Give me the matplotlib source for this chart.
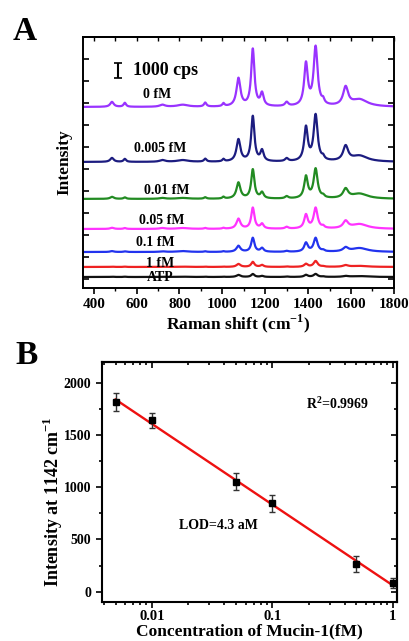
"""SERS 光谱 (A) + Mucin-1 标准曲线 (B)"""

import numpy as np
import matplotlib
matplotlib.use('Agg')
import matplotlib.pyplot as plt
from matplotlib.ticker import MultipleLocator, LogLocator, NullFormatter, FixedLocator

plt.rcParams['font.family'] = ['Liberation Serif', 'DejaVu Serif']
plt.rcParams['font.weight'] = 'bold'
plt.rcParams['mathtext.fontset'] = 'custom'
plt.rcParams['mathtext.rm'] = 'Liberation Serif:bold'
plt.rcParams['mathtext.bf'] = 'Liberation Serif:bold'

# ---- 面板 A 数据 ----
spec_labels = ['0 fM', '0.005 fM', '0.01 fM', '0.05 fM', '0.1 fM', '1 fM', 'ATP']
spec_colors = ['#9933ff', '#1c1c80', '#228b22', '#ff33ff', '#2233ee', '#ee2222', '#111111']
spec_offsets = [11710, 7960, 5440, 3390, 1820, 800, 116]
label_x = [695, 709, 742, 718, 686, 709, 709]
label_y = [12530, 8910, 5980, 3940, 2500, 1070, 116]

peak_pos = [1075, 1142, 1185, 1390, 1435, 1575, 1640]
peak_hwhm = [11, 9, 9, 10, 11, 14, 45]
peak_heights = [
    [1910, 3890, 850, 2850, 4000, 1250, 480],
    [1500, 3070, 720, 2280, 3130, 1000, 400],
    [1090, 1980, 400, 1480, 2000, 620, 340],
    [680, 1430, 320, 930, 1400, 480, 320],
    [410, 950, 250, 600, 930, 260, 260],
    [200, 340, 130, 200, 400, 110, 70],
    [140, 200, 70, 140, 200, 60, 60],
]
minor_pos = [485, 545, 720, 815, 920, 1005, 1300, 1470]
minor_hwhm = [10, 7, 15, 30, 7, 6, 9, 7]
minor_heights = [
    [340, 270, 140, 140, 270, 200, 270, 270],
    [270, 200, 120, 120, 200, 160, 200, 200],
    [140, 100, 60, 60, 100, 120, 150, 130],
    [80, 60, 60, 60, 60, 60, 120, 120],
    [60, 40, 40, 60, 40, 40, 60, 80],
    [20, 20, 20, 20, 20, 20, 30, 30],
    [20, 20, 20, 20, 20, 20, 30, 30],
]

# ---- 面板 B 数据 ----
conc_fM = [0.005, 0.01, 0.05, 0.1, 0.5, 1.0]
intensity = [1820, 1640, 1055, 845, 265, 80]
intensity_err = [85, 70, 85, 85, 75, 50]


def lorentz(x, x0, hwhm, h):
    return h / (1 + ((x - x0) / hwhm) ** 2)


def spectrum(x, i):
    y = np.full_like(x, spec_offsets[i], dtype=float)
    for x0, w, h in zip(peak_pos, peak_hwhm, peak_heights[i]):
        y += lorentz(x, x0, w, h)
    for x0, w, h in zip(minor_pos, minor_hwhm, minor_heights[i]):
        y += lorentz(x, x0, w, h)
    return y


def panel_a(ax):
    x = np.linspace(350, 1800, 1451)
    for i, lab in enumerate(spec_labels):
        ax.plot(x, spectrum(x, i), color=spec_colors[i], lw=1.6)
        ax.text(label_x[i], label_y[i], lab, ha='center', va='center',
                fontsize=10, fontweight='bold')

    # 1000 cps 比例尺
    ax.errorbar([512], [14200], yerr=[500], fmt='none', ecolor='black',
                elinewidth=1.5, capsize=3, capthick=1.2)
    ax.text(582, 14200, '1000 cps', ha='left', va='center',
            fontsize=13, fontweight='bold')

    ax.set_xlim(350, 1800)
    ax.set_ylim(-634, 16480)
    ax.xaxis.set_major_locator(MultipleLocator(200))
    ax.xaxis.set_minor_locator(MultipleLocator(100))
    ax.yaxis.set_major_locator(MultipleLocator(1500))
    ax.set_yticklabels([])
    ax.tick_params(axis='x', which='both', direction='out', labelsize=11)
    ax.tick_params(axis='x', which='major', length=4, width=1.2)
    ax.tick_params(axis='x', which='minor', length=2.5, width=1)
    ax.tick_params(axis='y', direction='in', length=4, width=1.2,
                   left=True, right=True)
    sec = ax.secondary_xaxis('top')
    sec.xaxis.set_major_locator(MultipleLocator(100))
    sec.tick_params(direction='in', length=3, width=1, labeltop=False)
    for s in ax.spines.values():
        s.set_linewidth(1.4)
    sec.spines['top'].set_linewidth(1.4)
    ax.set_xlabel('Raman shift (cm$^{\\mathbf{-1}}$)', fontsize=12.5,
                  fontweight='bold', labelpad=1)
    ax.set_ylabel('Intensity', fontsize=12.5, fontweight='bold', labelpad=4)


def panel_b(ax):
    lx = np.log10(conc_fM)
    b, a = np.polyfit(lx, intensity, 1)
    xf = np.array([conc_fM[0], conc_fM[-1]])
    ax.plot(xf, a + b * np.log10(xf), color='#ee1111', lw=1.7, zorder=2)
    ax.errorbar(conc_fM, intensity, yerr=intensity_err, fmt='s', ms=4,
                color='black', ecolor='#333333', elinewidth=1, capsize=2.5,
                capthick=1, zorder=3)
    ax.text(0.19, 1800, 'R$^{2}$=0.9969', fontsize=10, fontweight='bold',
            ha='left', va='center')
    ax.text(0.0168, 630, 'LOD=4.3 aM', fontsize=10, fontweight='bold',
            ha='left', va='center')

    ax.set_xscale('log')
    ax.set_xlim(0.00385, 1.08)
    ax.set_ylim(-100, 2200)
    ax.xaxis.set_major_locator(FixedLocator([0.01, 0.1, 1]))
    ax.set_xticklabels(['0.01', '0.1', '1'])
    ax.xaxis.set_minor_locator(LogLocator(base=10, subs=np.arange(2, 10)))
    ax.xaxis.set_minor_formatter(NullFormatter())
    ax.yaxis.set_major_locator(MultipleLocator(500))
    ax.yaxis.set_minor_locator(MultipleLocator(250))
    ax.tick_params(which='both', direction='out', width=1.2)
    ax.tick_params(axis='x', labelsize=10.5, pad=2)
    ax.tick_params(axis='y', labelsize=10)
    ax.tick_params(which='major', length=4)
    ax.tick_params(which='minor', length=2.5)
    ax.tick_params(which='both', top=False, right=False)

    # 顶部/右侧内向刻度
    top = ax.secondary_xaxis('top')
    top.set_xscale('log')
    top.xaxis.set_major_locator(FixedLocator([0.01, 0.1, 1]))
    top.xaxis.set_minor_locator(LogLocator(base=10, subs=np.arange(2, 10)))
    top.xaxis.set_minor_formatter(NullFormatter())
    top.tick_params(which='both', direction='in', labeltop=False, width=1.2)
    top.tick_params(which='major', length=4)
    top.tick_params(which='minor', length=2.5)
    right = ax.secondary_yaxis('right')
    right.yaxis.set_major_locator(MultipleLocator(500))
    right.yaxis.set_minor_locator(MultipleLocator(250))
    right.tick_params(which='both', direction='in', labelright=False, width=1.2)
    right.tick_params(which='major', length=4)
    right.tick_params(which='minor', length=2.5)
    for s in ax.spines.values():
        s.set_linewidth(1.5)
    top.spines['top'].set_linewidth(1.5)
    right.spines['right'].set_linewidth(1.5)

    ax.set_xlabel('Concentration of Mucin-1(fM)', fontsize=12.5,
                  fontweight='bold', labelpad=0)
    ax.set_ylabel('Intensity at 1142 cm$^{\\mathbf{-1}}$', fontsize=13,
                  fontweight='bold')
    ax.yaxis.set_label_coords(-0.125, 0.42)


def main():
    fig = plt.figure(figsize=(4.09, 6.41), dpi=100)
    ax_a = fig.add_axes([0.203, 0.5507, 0.760, 0.3916])
    ax_b = fig.add_axes([0.249, 0.0608, 0.721, 0.3744])
    panel_a(ax_a)
    panel_b(ax_b)
    fig.text(0.032, 0.975, 'A', fontsize=24, fontweight='bold', va='top')
    fig.text(0.037, 0.47, 'B', fontsize=24, fontweight='bold', va='top')
    fig.savefig('out.png', dpi=100)
    plt.close(fig)


if __name__ == '__main__':
    main()
